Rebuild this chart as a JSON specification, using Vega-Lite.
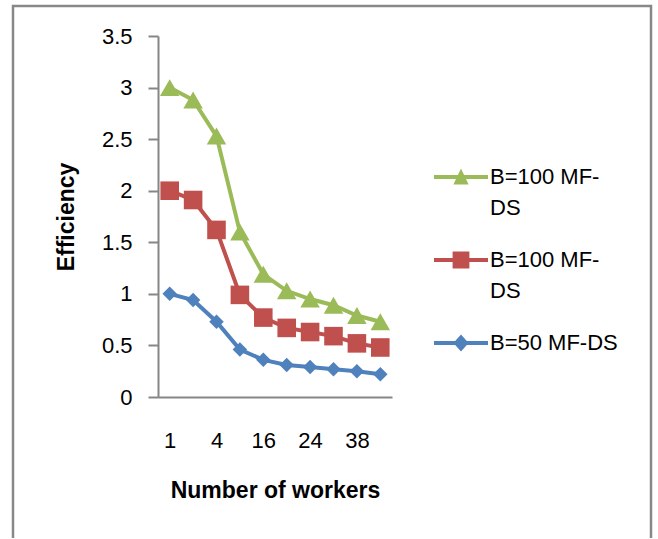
{
  "$schema": "https://vega.github.io/schema/vega-lite/v6.json",
  "width": 638,
  "height": 532,
  "autosize": {"type": "none"},
  "padding": {"left": 13, "top": 6, "right": 7, "bottom": 1},
  "background": "white",
  "config": {
    "view": {"stroke": "#888888", "strokeWidth": 2.5, "strokeDash": [1170, 638, 540, 10]},
    "font": "Liberation Sans",
    "style": {"guide-label": {"lineHeight": 31}},
    "axis": {
      "grid": false,
      "domainColor": "#868686",
      "domainWidth": 2,
      "tickColor": "#868686",
      "tickWidth": 2,
      "labelColor": "#000000",
      "titleColor": "#000000",
      "labelFont": "Liberation Sans",
      "labelFontSize": 22,
      "titleFont": "Liberation Sans",
      "titleFontSize": 23,
      "titleFontWeight": "bold"
    }
  },
  "data": {
    "values": [
      {"workers": 1, "series": "B=100 MF-DS (1)", "efficiency": 3.0},
      {"workers": 2, "series": "B=100 MF-DS (1)", "efficiency": 2.88},
      {"workers": 4, "series": "B=100 MF-DS (1)", "efficiency": 2.53},
      {"workers": 8, "series": "B=100 MF-DS (1)", "efficiency": 1.6},
      {"workers": 16, "series": "B=100 MF-DS (1)", "efficiency": 1.19},
      {"workers": 20, "series": "B=100 MF-DS (1)", "efficiency": 1.03},
      {"workers": 24, "series": "B=100 MF-DS (1)", "efficiency": 0.95},
      {"workers": 32, "series": "B=100 MF-DS (1)", "efficiency": 0.89},
      {"workers": 38, "series": "B=100 MF-DS (1)", "efficiency": 0.79},
      {"workers": 40, "series": "B=100 MF-DS (1)", "efficiency": 0.73},
      {"workers": 1, "series": "B=100 MF-DS (2)", "efficiency": 2.0},
      {"workers": 2, "series": "B=100 MF-DS (2)", "efficiency": 1.91},
      {"workers": 4, "series": "B=100 MF-DS (2)", "efficiency": 1.62},
      {"workers": 8, "series": "B=100 MF-DS (2)", "efficiency": 0.99},
      {"workers": 16, "series": "B=100 MF-DS (2)", "efficiency": 0.77},
      {"workers": 20, "series": "B=100 MF-DS (2)", "efficiency": 0.67},
      {"workers": 24, "series": "B=100 MF-DS (2)", "efficiency": 0.63},
      {"workers": 32, "series": "B=100 MF-DS (2)", "efficiency": 0.59},
      {"workers": 38, "series": "B=100 MF-DS (2)", "efficiency": 0.52},
      {"workers": 40, "series": "B=100 MF-DS (2)", "efficiency": 0.48},
      {"workers": 1, "series": "B=50 MF-DS", "efficiency": 1.0},
      {"workers": 2, "series": "B=50 MF-DS", "efficiency": 0.94},
      {"workers": 4, "series": "B=50 MF-DS", "efficiency": 0.73},
      {"workers": 8, "series": "B=50 MF-DS", "efficiency": 0.46},
      {"workers": 16, "series": "B=50 MF-DS", "efficiency": 0.36},
      {"workers": 20, "series": "B=50 MF-DS", "efficiency": 0.31},
      {"workers": 24, "series": "B=50 MF-DS", "efficiency": 0.29},
      {"workers": 32, "series": "B=50 MF-DS", "efficiency": 0.27},
      {"workers": 38, "series": "B=50 MF-DS", "efficiency": 0.25},
      {"workers": 40, "series": "B=50 MF-DS", "efficiency": 0.22}
    ]
  },
  "encoding": {
    "x": {
      "field": "workers",
      "type": "ordinal",
      "scale": {"type": "point", "range": [145, 379], "padding": 0.5},
      "axis": {
        "orient": "bottom",
        "offset": -141,
        "values": [1, 4, 16, 24, 38],
        "ticks": false,
        "labelAngle": 0,
        "labelPadding": 33,
        "title": "Number of workers",
        "titlePadding": 28
      }
    },
    "y": {
      "field": "efficiency",
      "type": "quantitative",
      "scale": {"domain": [0, 3.5], "range": [391, 30], "nice": false},
      "axis": {
        "orient": "left",
        "offset": -145,
        "values": [0, 0.5, 1, 1.5, 2, 2.5, 3, 3.5],
        "labelExpr": "'' + datum.value",
        "tickSize": 10,
        "labelPadding": 16,
        "title": "Efficiency",
        "titlePadding": 23
      }
    },
    "color": {
      "field": "series",
      "type": "nominal",
      "scale": {
        "domain": ["B=100 MF-DS (1)", "B=100 MF-DS (2)", "B=50 MF-DS"],
        "range": ["#9BBB59", "#C0504D", "#4F81BD"]
      },
      "legend": null
    }
  },
  "resolve": {"legend": {"color": "independent", "shape": "independent"}},
  "layer": [
    {
      "mark": {"type": "line", "strokeWidth": 4},
      "encoding": {}
    },
    {
      "transform": [{"filter": "datum.series == 'B=100 MF-DS (1)'"}],
      "mark": {"type": "point", "filled": true, "opacity": 1, "shape": "triangle-up", "size": 380},
      "encoding": {}
    },
    {
      "transform": [{"filter": "datum.series == 'B=100 MF-DS (2)'"}],
      "mark": {"type": "point", "filled": true, "opacity": 1, "shape": "square", "size": 345},
      "encoding": {}
    },
    {
      "transform": [{"filter": "datum.series == 'B=50 MF-DS'"}],
      "mark": {"type": "point", "filled": true, "opacity": 1, "shape": "diamond", "size": 210},
      "encoding": {}
    },
    {
      "description": "Legend carrier: line-with-marker glyphs per series, the marks themselves are transparent",
      "mark": {"type": "point", "filled": true, "opacity": 0, "size": 64},
      "encoding": {
        "color": {
          "field": "series",
          "type": "nominal",
          "legend": {
            "orient": "none",
            "legendX": 437,
            "legendY": 160,
            "title": null,
            "padding": 0,
            "symbolSize": 64,
            "symbolOpacity": 1,
            "symbolStrokeWidth": 0,
            "labelOffset": 18,
            "labelFont": "Liberation Sans",
            "labelFontSize": 22,
            "labelColor": "#000000",
            "labelLimit": 200,
            "rowPadding": 30,
            "labelExpr": "datum.value == 'B=50 MF-DS' ? datum.value : ['B=100 MF-', 'DS']"
          }
        },
        "shape": {
          "field": "series",
          "type": "nominal",
          "scale": {
            "domain": ["B=100 MF-DS (1)", "B=100 MF-DS (2)", "B=50 MF-DS"],
            "range": [
              "M-6.75,-0.5H6.75V0.5H-6.75ZM-1.9,1.9L0,-2.1L1.9,1.9Z",
              "M-6.75,-0.5H6.75V0.5H-6.75ZM-2.1,-2.1H2.1V2.1H-2.1Z",
              "M-6.75,-0.5H6.75V0.5H-6.75ZM0,-2.1L1.9,0L0,2.1L-1.9,0Z"
            ]
          },
          "legend": {
            "orient": "none",
            "legendX": 437,
            "legendY": 160,
            "title": null,
            "padding": 0,
            "symbolSize": 64,
            "symbolOpacity": 1,
            "symbolStrokeWidth": 0,
            "labelOffset": 18,
            "labelFont": "Liberation Sans",
            "labelFontSize": 22,
            "labelColor": "#000000",
            "labelLimit": 200,
            "rowPadding": 30,
            "labelExpr": "datum.value == 'B=50 MF-DS' ? datum.value : ['B=100 MF-', 'DS']"
          }
        }
      }
    }
  ]
}
